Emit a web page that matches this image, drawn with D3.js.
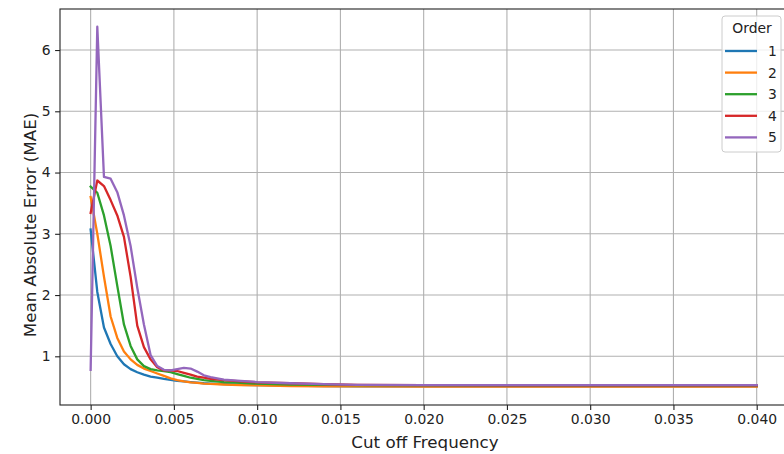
<!DOCTYPE html>
<html>
<head>
<meta charset="utf-8">
<script src="https://cdnjs.cloudflare.com/ajax/libs/d3/7.8.5/d3.min.js"></script>
<style>
  body { margin: 0; background: #fff; }
  svg { display: block; font-family: "DejaVu Sans", sans-serif; }
</style>
</head>
<body>
<div id="chart"></div>
<script>
// cut off frequencies (x values)
var freq = [0, 0.0004, 0.0008, 0.0012, 0.0016, 0.002, 0.0024, 0.0028, 0.0032, 0.0036,
            0.004, 0.0044, 0.0048, 0.0052, 0.0056, 0.006, 0.0064, 0.0068, 0.0072, 0.008,
            0.009, 0.010, 0.012, 0.014, 0.016, 0.020, 0.025, 0.030, 0.035, 0.040]

// MAE per filter order
var order1 = [3.07, 2.05, 1.47, 1.20, 1.00, 0.87, 0.79, 0.74, 0.70, 0.67,
              0.65, 0.63, 0.615, 0.60, 0.59, 0.58, 0.57, 0.56, 0.555, 0.545,
              0.535, 0.53, 0.52, 0.515, 0.51, 0.51, 0.51, 0.51, 0.51, 0.51]
var order2 = [3.60, 3.00, 2.30, 1.65, 1.30, 1.08, 0.95, 0.86, 0.80, 0.76,
              0.72, 0.68, 0.64, 0.61, 0.59, 0.575, 0.565, 0.555, 0.55, 0.54,
              0.53, 0.525, 0.515, 0.51, 0.51, 0.505, 0.505, 0.505, 0.505, 0.505]
var order3 = [3.77, 3.67, 3.30, 2.80, 2.15, 1.52, 1.17, 0.95, 0.84, 0.79,
              0.77, 0.76, 0.74, 0.71, 0.68, 0.65, 0.63, 0.61, 0.60, 0.58,
              0.565, 0.555, 0.54, 0.535, 0.53, 0.525, 0.52, 0.52, 0.52, 0.52]
var order4 = [3.34, 3.87, 3.78, 3.55, 3.30, 2.95, 2.30, 1.50, 1.15, 0.95,
              0.82, 0.77, 0.77, 0.76, 0.73, 0.70, 0.67, 0.65, 0.63, 0.61,
              0.59, 0.575, 0.56, 0.545, 0.535, 0.53, 0.525, 0.525, 0.525, 0.525]
var order5 = [0.78, 6.38, 3.93, 3.90, 3.68, 3.30, 2.80, 2.12, 1.52, 1.02,
              0.84, 0.78, 0.77, 0.79, 0.81, 0.80, 0.75, 0.69, 0.66, 0.62,
              0.60, 0.58, 0.56, 0.545, 0.535, 0.53, 0.53, 0.53, 0.53, 0.53]

var orders = ["1", "2", "3", "4", "5"]
var xTicks = [0, 0.005, 0.01, 0.015, 0.02, 0.025, 0.03, 0.035, 0.04]
var yTicks = [1, 2, 3, 4, 5, 6]

var series = [order1, order2, order3, order4, order5]
var colors = ["#1f77b4", "#ff7f0e", "#2ca02c", "#d62728", "#9467bd"]

// plot frame (right edge runs off the picture like the original)
var plotLeft = 60, plotRight = 790, plotTop = 9, plotBottom = 405

var svg = d3.select("#chart")
    .append("svg")
    .attr("width", 784)
    .attr("height", 454)

var x = d3.scaleLinear()
    .domain([-0.00184, 0.042])
    .range([plotLeft, plotRight])

var y = d3.scaleLinear()
    .domain([0.205, 6.67])
    .range([plotBottom, plotTop])

// grid
svg.append("g")
    .selectAll("line")
    .data(xTicks)
    .enter()
    .append("line")
    .attr("x1", d => x(d)).attr("x2", d => x(d))
    .attr("y1", plotTop).attr("y2", plotBottom)
    .attr("stroke", "#b0b0b0")
    .attr("stroke-width", 1.1)

svg.append("g")
    .selectAll("line")
    .data(yTicks)
    .enter()
    .append("line")
    .attr("x1", plotLeft).attr("x2", plotRight)
    .attr("y1", d => y(d)).attr("y2", d => y(d))
    .attr("stroke", "#b0b0b0")
    .attr("stroke-width", 1.1)

// lines
var line = d3.line()
    .x((d, i) => x(freq[i]))
    .y(d => y(d))

svg.append("g")
    .selectAll("path")
    .data(series)
    .enter()
    .append("path")
    .attr("d", line)
    .attr("fill", "none")
    .attr("stroke", (d, i) => colors[i])
    .attr("stroke-width", 2.3)
    .attr("stroke-linejoin", "round")
    .attr("stroke-linecap", "square")

// axes
var xAxis = svg.append("g")
    .attr("transform", "translate(0," + plotBottom + ")")
    .call(d3.axisBottom(x).tickValues(xTicks).tickFormat(d3.format(".3f")).tickSize(4.9).tickPadding(4))
var yAxis = svg.append("g")
    .attr("transform", "translate(" + plotLeft + ",0)")
    .call(d3.axisLeft(y).tickValues(yTicks).tickFormat(d3.format("d")).tickSize(4.9).tickPadding(4.5))

for (var ax of [xAxis, yAxis]) {
    ax.select(".domain").remove()
    ax.selectAll(".tick line").attr("stroke", "#222").attr("stroke-width", 1.1)
    ax.selectAll(".tick text").attr("fill", "#222").style("font-size", "13.9px").style("font-family", "DejaVu Sans")
}

// spines
svg.append("rect")
    .attr("x", plotLeft).attr("y", plotTop)
    .attr("width", plotRight - plotLeft).attr("height", plotBottom - plotTop)
    .attr("fill", "none")
    .attr("stroke", "#222")
    .attr("stroke-width", 1.1)

// axis titles
svg.append("text")
    .attr("x", (plotLeft + plotRight) / 2)
    .attr("y", 448)
    .attr("text-anchor", "middle")
    .attr("fill", "#222")
    .style("font-size", "16.7px")
    .text("Cut off Frequency")

svg.append("text")
    .attr("transform", "translate(36,225) rotate(-90)")
    .attr("text-anchor", "middle")
    .attr("fill", "#222")
    .style("font-size", "16.7px")
    .text("Mean Absolute Error (MAE)")

// legend
var lg = svg.append("g")
lg.append("rect")
    .attr("x", 722).attr("y", 16)
    .attr("width", 59).attr("height", 136)
    .attr("rx", 3)
    .attr("fill", "#fff").attr("fill-opacity", 0.8)
    .attr("stroke", "#cccccc")
lg.append("text")
    .attr("x", 752).attr("y", 33)
    .attr("text-anchor", "middle")
    .attr("fill", "#222")
    .style("font-size", "13.9px")
    .text("Order")

var items = lg.selectAll("g.item")
    .data(orders)
    .enter()
    .append("g")
    .attr("class", "item")
    .attr("transform", (d, i) => "translate(0," + (51 + i * 21.6) + ")")
items.append("line")
    .attr("x1", 725).attr("x2", 757)
    .attr("stroke", (d, i) => colors[i])
    .attr("stroke-width", 2.3)
items.append("text")
    .attr("x", 768).attr("y", 5)
    .attr("fill", "#222")
    .style("font-size", "13.9px")
    .text(d => d)
</script>
</body>
</html>
